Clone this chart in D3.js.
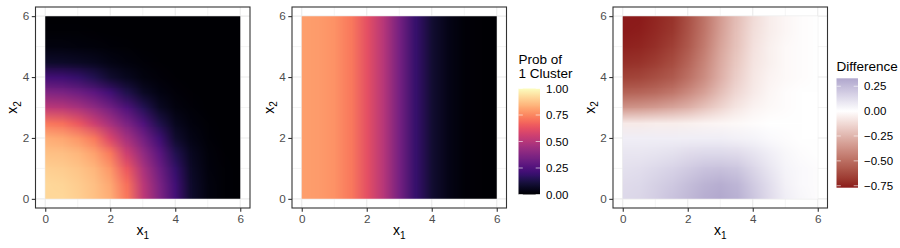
<!DOCTYPE html>
<html lang="en">
<head>
<meta charset="UTF-8">
<title>Cluster probability heatmaps</title>
<script src="https://d3js.org/d3.v7.min.js"></script>
<style>
  body { margin: 0; background: #fff; }
  text { font-family: "Liberation Sans", Arial, sans-serif; }
</style>
</head>
<body>
<svg id="chart" width="900" height="248"></svg>
<script>
// grid positions (x1 and x2), step 0.5
const gridSteps = [0, 0.5, 1, 1.5, 2, 2.5, 3, 3.5, 4, 4.5, 5, 5.5, 6];

// panel 1: prob of 1 cluster, rows are x2 = 0 .. 6, columns x1 = 0 .. 6
const probRadial = [
  [0.92, 0.92, 0.90, 0.87, 0.83, 0.72, 0.52, 0.37, 0.22, 0.08, 0.03, 0.01, 0.00],
  [0.92, 0.912, 0.893, 0.864, 0.816, 0.70, 0.508, 0.359, 0.211, 0.077, 0.029, 0.01, 0.00],
  [0.90, 0.893, 0.875, 0.846, 0.778, 0.643, 0.471, 0.328, 0.186, 0.069, 0.026, 0.008, 0.00],
  [0.87, 0.864, 0.846, 0.803, 0.72, 0.554, 0.414, 0.278, 0.144, 0.056, 0.021, 0.006, 0.00],
  [0.83, 0.816, 0.778, 0.72, 0.589, 0.46, 0.338, 0.211, 0.088, 0.038, 0.015, 0.003, 0.00],
  [0.72, 0.70, 0.643, 0.554, 0.46, 0.359, 0.249, 0.136, 0.058, 0.024, 0.008, 0.00, 0.00],
  [0.52, 0.508, 0.471, 0.414, 0.338, 0.249, 0.152, 0.069, 0.03, 0.014, 0.003, 0.00, 0.00],
  [0.37, 0.359, 0.328, 0.278, 0.211, 0.136, 0.069, 0.035, 0.017, 0.006, 0.00, 0.00, 0.00],
  [0.22, 0.211, 0.186, 0.144, 0.088, 0.058, 0.03, 0.017, 0.007, 0.00, 0.00, 0.00, 0.00],
  [0.08, 0.077, 0.069, 0.056, 0.038, 0.024, 0.014, 0.006, 0.00, 0.00, 0.00, 0.00, 0.00],
  [0.03, 0.029, 0.026, 0.021, 0.015, 0.008, 0.003, 0.00, 0.00, 0.00, 0.00, 0.00, 0.00],
  [0.01, 0.01, 0.008, 0.006, 0.003, 0.00, 0.00, 0.00, 0.00, 0.00, 0.00, 0.00, 0.00],
  [0.00, 0.00, 0.00, 0.00, 0.00, 0.00, 0.00, 0.00, 0.00, 0.00, 0.00, 0.00, 0.00]
];

// panel 2: depends on x1 only
const probLinear = [0.80, 0.79, 0.77, 0.72, 0.62, 0.50, 0.34, 0.19, 0.09, 0.04, 0.015, 0.005, 0.00];

// panel 3: difference, rows x2 = 0 .. 6
const difference = [
  [0.14, 0.15, 0.18, 0.22, 0.26, 0.30, 0.32, 0.29, 0.21, 0.13, 0.06, 0.03, 0.01],
  [0.13, 0.14, 0.17, 0.20, 0.24, 0.28, 0.30, 0.27, 0.19, 0.12, 0.05, 0.02, 0.01],
  [0.11, 0.12, 0.14, 0.16, 0.19, 0.22, 0.23, 0.21, 0.15, 0.09, 0.04, 0.02, 0.01],
  [0.09, 0.09, 0.10, 0.11, 0.13, 0.14, 0.14, 0.13, 0.10, 0.06, 0.03, 0.01, 0.00],
  [0.06, 0.06, 0.06, 0.06, 0.06, 0.06, 0.06, 0.05, 0.04, 0.02, 0.01, 0.00, 0.00],
  [-0.07, -0.07, -0.06, -0.06, -0.05, -0.04, -0.03, -0.02, -0.01, 0.00, 0.00, 0.00, 0.00],
  [-0.36, -0.35, -0.33, -0.30, -0.26, -0.20, -0.14, -0.08, -0.04, -0.02, -0.01, 0.00, 0.00],
  [-0.54, -0.53, -0.51, -0.47, -0.40, -0.32, -0.22, -0.13, -0.07, -0.03, -0.01, 0.00, 0.00],
  [-0.65, -0.64, -0.61, -0.57, -0.49, -0.39, -0.27, -0.16, -0.08, -0.04, -0.02, -0.01, 0.00],
  [-0.71, -0.70, -0.67, -0.62, -0.53, -0.42, -0.29, -0.18, -0.09, -0.05, -0.02, -0.01, 0.00],
  [-0.75, -0.74, -0.71, -0.66, -0.57, -0.45, -0.31, -0.20, -0.10, -0.05, -0.02, -0.01, 0.00],
  [-0.77, -0.76, -0.73, -0.69, -0.59, -0.47, -0.33, -0.21, -0.11, -0.06, -0.03, -0.01, 0.00],
  [-0.78, -0.77, -0.74, -0.70, -0.60, -0.48, -0.34, -0.22, -0.12, -0.06, -0.03, -0.01, 0.00]
];

const axisTicks = [0, 2, 4, 6];
const minorTicks = [1, 3, 5];
const probLegendTicks = [0, 0.25, 0.5, 0.75, 1];
const diffLegendTicks = [-0.75, -0.5, -0.25, 0, 0.25];
const diffLimits = [-0.77, 0.33];

const svg = d3.select("#chart");

const magma = d3.scaleSequential(d3.interpolateMagma).domain([0, 1]);
const diffColor = d3.scaleLinear()
  .domain([-0.77, 0, 0.77])
  .range(["#8b1a1a", "#ffffff", "#483d8b"])
  .interpolate(d3.interpolateLab)
  .clamp(true);

const probLinearGrid = gridSteps.map(() => probLinear.slice());

const panelTop = 7, panelBottom = 208;
const panels = [
  { left: 35.5, right: 250, grid: probRadial, color: magma },
  { left: 292, right: 506.5, grid: probLinearGrid, color: magma },
  { left: 613, right: 827.5, grid: difference, color: diffColor }
];

// build a tiny bitmap (one pixel per grid point), browser smooths it when scaled
function heatImage(grid, color) {
  const n = grid.length, m = grid[0].length;
  const c = document.createElement("canvas");
  c.width = m; c.height = n;
  const ctx = c.getContext("2d");
  const img = ctx.createImageData(m, n);
  grid.forEach((row, j) => row.forEach((v, i) => {
    const rgb = d3.rgb(color(v));
    const k = ((n - 1 - j) * m + i) * 4;
    img.data[k] = rgb.r; img.data[k + 1] = rgb.g; img.data[k + 2] = rgb.b; img.data[k + 3] = 255;
  }));
  ctx.putImageData(img, 0, 0);
  return c.toDataURL();
}

const defs = svg.append("defs");

panels.forEach((p, idx) => {
  const x = d3.scaleLinear().domain([-0.3, 6.3]).range([p.left, p.right]);
  const y = d3.scaleLinear().domain([-0.3, 6.3]).range([panelBottom, panelTop]);
  const g = svg.append("g");

  // grid lines
  minorTicks.forEach(t => {
    g.append("line").attr("x1", x(t)).attr("x2", x(t)).attr("y1", panelTop).attr("y2", panelBottom)
      .attr("stroke", "#ebebeb").attr("stroke-width", 0.55);
    g.append("line").attr("y1", y(t)).attr("y2", y(t)).attr("x1", p.left).attr("x2", p.right)
      .attr("stroke", "#ebebeb").attr("stroke-width", 0.55);
  });
  axisTicks.forEach(t => {
    g.append("line").attr("x1", x(t)).attr("x2", x(t)).attr("y1", panelTop).attr("y2", panelBottom)
      .attr("stroke", "#ebebeb").attr("stroke-width", 1.1);
    g.append("line").attr("y1", y(t)).attr("y2", y(t)).attr("x1", p.left).attr("x2", p.right)
      .attr("stroke", "#ebebeb").attr("stroke-width", 1.1);
  });

  // heat map
  const clipId = "clip" + idx;
  defs.append("clipPath").attr("id", clipId).append("rect")
    .attr("x", x(0)).attr("y", y(6)).attr("width", x(6) - x(0)).attr("height", y(0) - y(6));
  const half = 0.25;
  g.append("image")
    .attr("href", heatImage(p.grid, p.color))
    .attr("x", x(-half)).attr("y", y(6 + half))
    .attr("width", x(6 + half) - x(-half)).attr("height", y(-half) - y(6 + half))
    .attr("preserveAspectRatio", "none")
    .attr("clip-path", `url(#${clipId})`);

  // border
  g.append("rect").attr("x", p.left).attr("y", panelTop)
    .attr("width", p.right - p.left).attr("height", panelBottom - panelTop)
    .attr("fill", "none").attr("stroke", "#333333").attr("stroke-width", 1.1);

  // axes
  const xAxis = d3.axisBottom(x).tickValues(axisTicks).tickSize(3.7).tickPadding(2.8).tickFormat(d3.format("d"));
  const yAxis = d3.axisLeft(y).tickValues(axisTicks).tickSize(3.7).tickPadding(2.6).tickFormat(d3.format("d"));
  [svg.append("g").attr("transform", `translate(0,${panelBottom})`).call(xAxis),
   svg.append("g").attr("transform", `translate(${p.left},0)`).call(yAxis)].forEach(a => {
    a.select(".domain").remove();
    a.selectAll(".tick line").attr("stroke", "#333333").attr("stroke-width", 1.1);
    a.selectAll(".tick text").attr("fill", "#4d4d4d").style("font-size", "11.7px")
      .style("font-family", '"Liberation Sans", Arial, sans-serif');
  });

  // axis titles
  const xt = svg.append("text").attr("x", (p.left + p.right) / 2).attr("y", 235)
    .attr("text-anchor", "middle").style("font-size", "14px").attr("fill", "#000");
  xt.append("tspan").text("x");
  xt.append("tspan").attr("dy", 3.5).style("font-size", "10px").text("1");

  const ytx = p.left - 18.5, yty = (panelTop + panelBottom) / 2;
  const yt = svg.append("text").attr("transform", `translate(${ytx},${yty}) rotate(-90)`)
    .attr("text-anchor", "middle").style("font-size", "14px").attr("fill", "#000");
  yt.append("tspan").text("x");
  yt.append("tspan").attr("dy", 3.5).style("font-size", "10px").text("2");
});

// legends
function colorBar(opts) {
  const { x0, width, top, bottom, domain, color, ticks, fmt, titleLines, titleY } = opts;
  const ly = d3.scaleLinear().domain(domain).range([bottom, top]);
  const gid = "grad" + x0;
  const grad = defs.append("linearGradient").attr("id", gid)
    .attr("x1", 0).attr("x2", 0).attr("y1", 1).attr("y2", 0);
  d3.range(0, 1.0001, 0.02).forEach(f => {
    grad.append("stop").attr("offset", f)
      .attr("stop-color", color(domain[0] + f * (domain[1] - domain[0])));
  });
  const g = svg.append("g");
  titleLines.forEach((t, i) => {
    g.append("text").attr("x", x0).attr("y", titleY + i * 13.5)
      .style("font-size", "13.5px").attr("fill", "#000").text(t);
  });
  g.append("rect").attr("x", x0).attr("y", top).attr("width", width).attr("height", bottom - top)
    .attr("fill", `url(#${gid})`);
  const tl = width / 5;
  ticks.forEach(t => {
    g.append("line").attr("x1", x0).attr("x2", x0 + tl).attr("y1", ly(t)).attr("y2", ly(t))
      .attr("stroke", "#ffffff").attr("stroke-width", 0.6);
    g.append("line").attr("x1", x0 + width - tl).attr("x2", x0 + width).attr("y1", ly(t)).attr("y2", ly(t))
      .attr("stroke", "#ffffff").attr("stroke-width", 0.6);
    g.append("text").attr("x", x0 + width + 6).attr("y", ly(t)).attr("dy", "0.35em")
      .style("font-size", "11.5px").attr("fill", "#000").text(fmt(t));
  });
}

colorBar({
  x0: 518.5, width: 21.5, top: 88.5, bottom: 194.5, domain: [0, 1], color: magma,
  ticks: probLegendTicks, fmt: d3.format(".2f"), titleLines: ["Prob of", "1 Cluster"], titleY: 64
});
colorBar({
  x0: 836.5, width: 21.5, top: 78.3, bottom: 187.7, domain: diffLimits, color: diffColor,
  ticks: diffLegendTicks, fmt: d3.format(".2f"), titleLines: ["Difference"], titleY: 71
});
</script>
</body>
</html>
